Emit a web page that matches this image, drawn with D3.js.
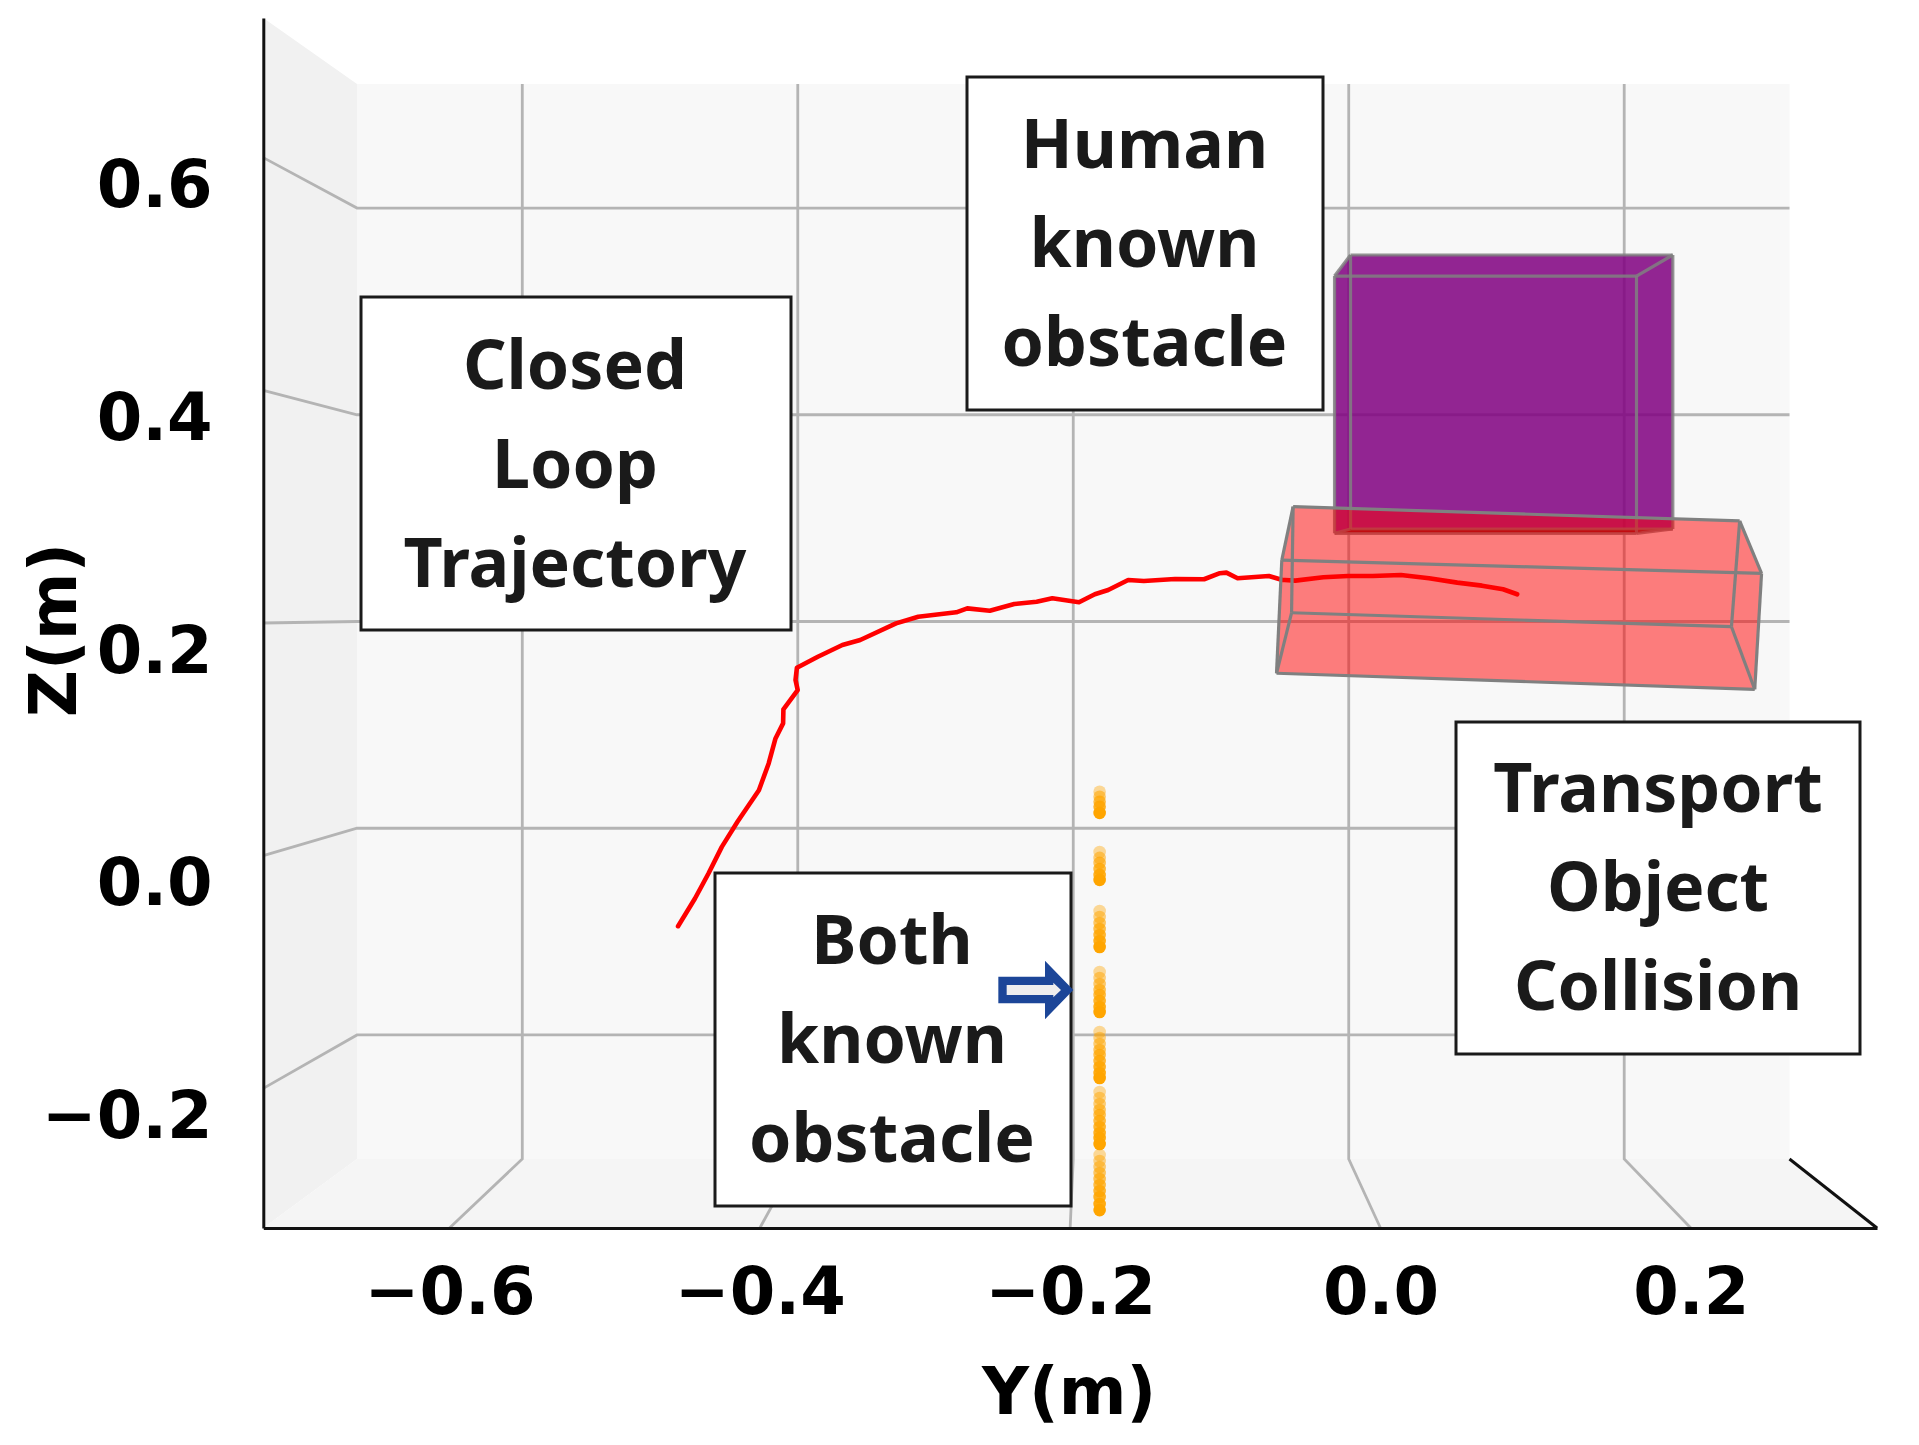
<!DOCTYPE html>
<html>
<head>
<meta charset="utf-8">
<script src="https://cdn.jsdelivr.net/npm/d3@7"></script>
<style>
html,body{margin:0;padding:0;background:#fff;}
svg{display:block;filter:blur(0.6px);}
</style>
</head>
<body>
<svg id="c" width="1919" height="1445"></svg>
<script>
// ---- data (metres) ----
const yTicks = [-0.6, -0.4, -0.2, 0.0, 0.2];
const zTicks = [-0.2, 0.0, 0.2, 0.4, 0.6];
const yLimits = [-0.72, 0.32];
const zLimits = [-0.32, 0.72];

const trajectoryY = [-0.4527,-0.4418,-0.4331,-0.4245,-0.4144,-0.4006,-0.3943,-0.3899,-0.3850,-0.3848,-0.3756,-0.3770,-0.3761,-0.3626,-0.3468,-0.3353,-0.3122,-0.2979,-0.2734,-0.2663,-0.2518,-0.2360,-0.2216,-0.2115,-0.1943,-0.1841,-0.1755,-0.1626,-0.1525,-0.1324,-0.1137,-0.1035,-0.0993,-0.0921,-0.0719,-0.0632,-0.0618,-0.0549,-0.0368,-0.0209,-0.0050,0.0132,0.0313,0.0495,0.0654,0.0790,0.0881];
const trajectoryZ = [-0.0606,-0.0368,-0.0153,0.0076,0.0291,0.0563,0.0793,0.1008,0.1137,0.1258,0.1424,0.1510,0.1615,0.1710,0.1811,0.1854,0.1997,0.2054,0.2092,0.2126,0.2106,0.2163,0.2183,0.2212,0.2178,0.2247,0.2284,0.2370,0.2361,0.2378,0.2376,0.2428,0.2433,0.2385,0.2404,0.2370,0.2370,0.2364,0.2393,0.2404,0.2404,0.2413,0.2385,0.2347,0.2321,0.2290,0.2247];

const obstacleY = -0.181;
const obstacleZ = [
  [0.0549,0.0506,0.0463,0.0420,0.0368],
  [0.0032,-0.0019,-0.0062,-0.0114,-0.0165,-0.0208],
  [-0.0475,-0.0527,-0.0578,-0.0630,-0.0682,-0.0733,-0.0785],
  [-0.1000,-0.1051,-0.1103,-0.1154,-0.1197,-0.1249,-0.1300,-0.1343],
  [-0.1515,-0.1567,-0.1618,-0.1670,-0.1713,-0.1764,-0.1816,-0.1868,-0.1911],
  [-0.2031,-0.2082,-0.2134,-0.2186,-0.2229,-0.2280,-0.2332,-0.2384,-0.2427,-0.2478],
  [-0.2572,-0.2624,-0.2676,-0.2727,-0.2779,-0.2830,-0.2882,-0.2934,-0.2994,-0.3046]
];

// corners as [Y, Z]: top-left, top-right, bottom-right, bottom-left
const humanBack  = [[-0.0193,0.5163],[0.1884,0.5163],[0.1884,0.2808],[-0.0193,0.2808]];
const humanFront = [[-0.0296,0.4982],[0.1650,0.4982],[0.1650,0.2771],[-0.0296,0.2771]];
const objectBack  = [[-0.0563,0.3000],[0.2315,0.2877],[0.2262,0.1968],[-0.0573,0.2088]];
const objectFront = [[-0.0636,0.2541],[0.2456,0.2427],[0.2412,0.1430],[-0.0670,0.1568]];

const notes = [
  {lines:["Closed","Loop","Trajectory"], box:[361,297,430,333], cx:575, base:388.5},
  {lines:["Human","known","obstacle"],   box:[967,77,356,333],  cx:1144.5, base:167.5},
  {lines:["Transport","Object","Collision"], box:[1456,722,404,332], cx:1658, base:811.5},
  {lines:["Both","known","obstacle"],    box:[715,873,356,333], cx:892, base:963.5}
];

// ---- scales: front edge of the box and back wall of the box ----
const yF = d3.scaleLinear().domain(yLimits).range([263.3,1877]);
const zF = d3.scaleLinear().domain(zLimits).range([1228,18]);
const yB = d3.scaleLinear().domain(yLimits).range([357,1789.5]);
const zB = d3.scaleLinear().domain(zLimits).range([1159,84]);

const svg = d3.select("#c");
const path = pts => "M" + pts.map(p => p.join(",")).join("L") + "Z";
const proj = p => [yF(p[0]), zF(p[1])];

// panes
const [y0,y1] = yLimits, [z0,z1] = zLimits;
svg.append("path").attr("d", path([[yF(y0),zF(z1)],[yB(y0),zB(z1)],[yB(y0),zB(z0)],[yF(y0),zF(z0)]])).attr("fill","#f1f1f1");
svg.append("path").attr("d", path([[yB(y0),zB(z0)],[yB(y1),zB(z0)],[yF(y1),zF(z0)],[yF(y0),zF(z0)]])).attr("fill","#f5f5f5");
svg.append("path").attr("d", path([[yB(y0),zB(z1)],[yB(y1),zB(z1)],[yB(y1),zB(z0)],[yB(y0),zB(z0)]])).attr("fill","#f8f8f8");

// grid
const grid = svg.append("g").attr("fill","none").attr("stroke","#b4b4b4").attr("stroke-width",2.8);
yTicks.forEach(t => {
  grid.append("polyline").attr("points",[[yB(t),zB(z1)],[yB(t),zB(z0)],[yF(t),zF(z0)]].join(" "));
});
zTicks.forEach(t => {
  grid.append("polyline").attr("points",[[yB(y1),zB(t)],[yB(y0),zB(t)],[yF(y0),zF(t)]].join(" "));
});

// human-known obstacle (purple), under the transport object
const silhouetteH = [humanBack[0],humanBack[1],humanBack[2],humanFront[2],humanFront[3],humanFront[0]].map(proj);
svg.append("path").attr("d",path(silhouetteH)).attr("fill","#800080").attr("fill-opacity",0.85);
// underside of the purple box
svg.append("path").attr("d",path([humanBack[3],humanBack[2],humanFront[2],humanFront[3]].map(proj)))
  .attr("fill","#84000a");
const edges = (back, front) => {
  const e = [];
  for (let i=0;i<4;i++){ e.push([back[i],back[(i+1)%4]]); e.push([front[i],front[(i+1)%4]]); e.push([back[i],front[i]]); }
  return e;
};
const hEdges = svg.append("g").attr("stroke","#808080").attr("stroke-width",3.2).attr("stroke-opacity",0.85);
edges(humanBack,humanFront).forEach(e => {
  hEdges.append("line").attr("x1",yF(e[0][0])).attr("y1",zF(e[0][1])).attr("x2",yF(e[1][0])).attr("y2",zF(e[1][1]));
});

// transport object (red)
const silhouetteO = [objectBack[0],objectBack[1],objectFront[1],objectFront[2],objectFront[3],objectFront[0]].map(proj);
svg.append("path").attr("d",path(silhouetteO)).attr("fill","#ff0000").attr("fill-opacity",0.5);

// trajectory
const line = d3.line().x(d=>yF(d[0])).y(d=>zF(d[1])).curve(d3.curveLinear);
svg.append("path").datum(trajectoryY.map((y,i)=>[y,trajectoryZ[i]]))
  .attr("d",line).attr("fill","none").attr("stroke","#ff0000").attr("stroke-width",4.6)
  .attr("stroke-linejoin","round").attr("stroke-linecap","round");

const oEdges = svg.append("g").attr("stroke","#808080").attr("stroke-width",3.2);
edges(objectBack,objectFront).forEach(e => {
  oEdges.append("line").attr("x1",yF(e[0][0])).attr("y1",zF(e[0][1])).attr("x2",yF(e[1][0])).attr("y2",zF(e[1][1]));
});

// both-known obstacle points
const pts = svg.append("g").attr("fill","#ffa500");
obstacleZ.forEach(group => {
  group.forEach((z,i) => {
    pts.append("circle").attr("cx",yF(obstacleY)).attr("cy",zF(z)).attr("r",6.3)
      .attr("fill-opacity",0.4 + 0.6*i/(group.length-1));
  });
});

// axes
const fmt = d3.format(".1f");
const axX = svg.append("g").attr("transform",`translate(0,${zF(z0)})`)
  .call(d3.axisBottom(yF).tickValues(yTicks).tickFormat(fmt).tickSize(0).tickSizeOuter(0));
const axZ = svg.append("g").attr("transform",`translate(${yF(y0)},0)`)
  .call(d3.axisLeft(zF).tickValues(zTicks).tickFormat(fmt).tickSize(0).tickSizeOuter(0));
[axX,axZ].forEach(a => {
  a.attr("font-family","'DejaVu Sans'").attr("font-size",65.5).attr("font-weight","bold");
  a.select(".domain").attr("stroke","#111").attr("stroke-width",3);
  a.selectAll("text").attr("fill","#000").attr("dy",0);
});
axX.selectAll("text").attr("y",86);
axZ.selectAll("text").attr("x",-50.6).attr("y",49);
svg.append("line").attr("x1",yB(y1)).attr("y1",zB(z0)).attr("x2",yF(y1)).attr("y2",zF(z0))
  .attr("stroke","#111").attr("stroke-width",3);

const title = (t,tr) => svg.append("text").text(t).attr("transform",tr)
  .attr("text-anchor","middle").attr("font-family","'DejaVu Sans'").attr("font-weight","bold")
  .attr("font-size",65).attr("fill","#000");
title("Y(m)",`translate(1069,1414)`);
title("Z(m)",`translate(76,630) rotate(-90)`);

// annotation boxes
notes.forEach(n => {
  svg.append("rect").attr("x",n.box[0]).attr("y",n.box[1]).attr("width",n.box[2]).attr("height",n.box[3])
    .attr("fill","#fff").attr("stroke","#1a1a1a").attr("stroke-width",3);
  n.lines.forEach((l,i) => {
    svg.append("text").text(l).attr("x",n.cx).attr("y",n.base+i*99.3)
      .attr("text-anchor","middle").attr("font-family","'Noto Sans'").attr("font-weight","bold")
      .attr("font-size",68).attr("fill","#1a1a1a");
  });
});

// arrow
const ax = x => 960 + x/3, ay = y => 770 + y/3;
svg.append("path").attr("d",path([[115,620],[255,620],[255,572],[340,660],[255,748],[255,700],[115,700]].map(p=>[ax(p[0]),ay(p[1])]))).attr("fill","#1c4698");
svg.append("path").attr("d",path([[140,645],[280,645],[280,638],[303,660],[280,682],[280,675],[140,675]].map(p=>[ax(p[0]),ay(p[1])]))).attr("fill","#eeeeee");
</script>
</body>
</html>
